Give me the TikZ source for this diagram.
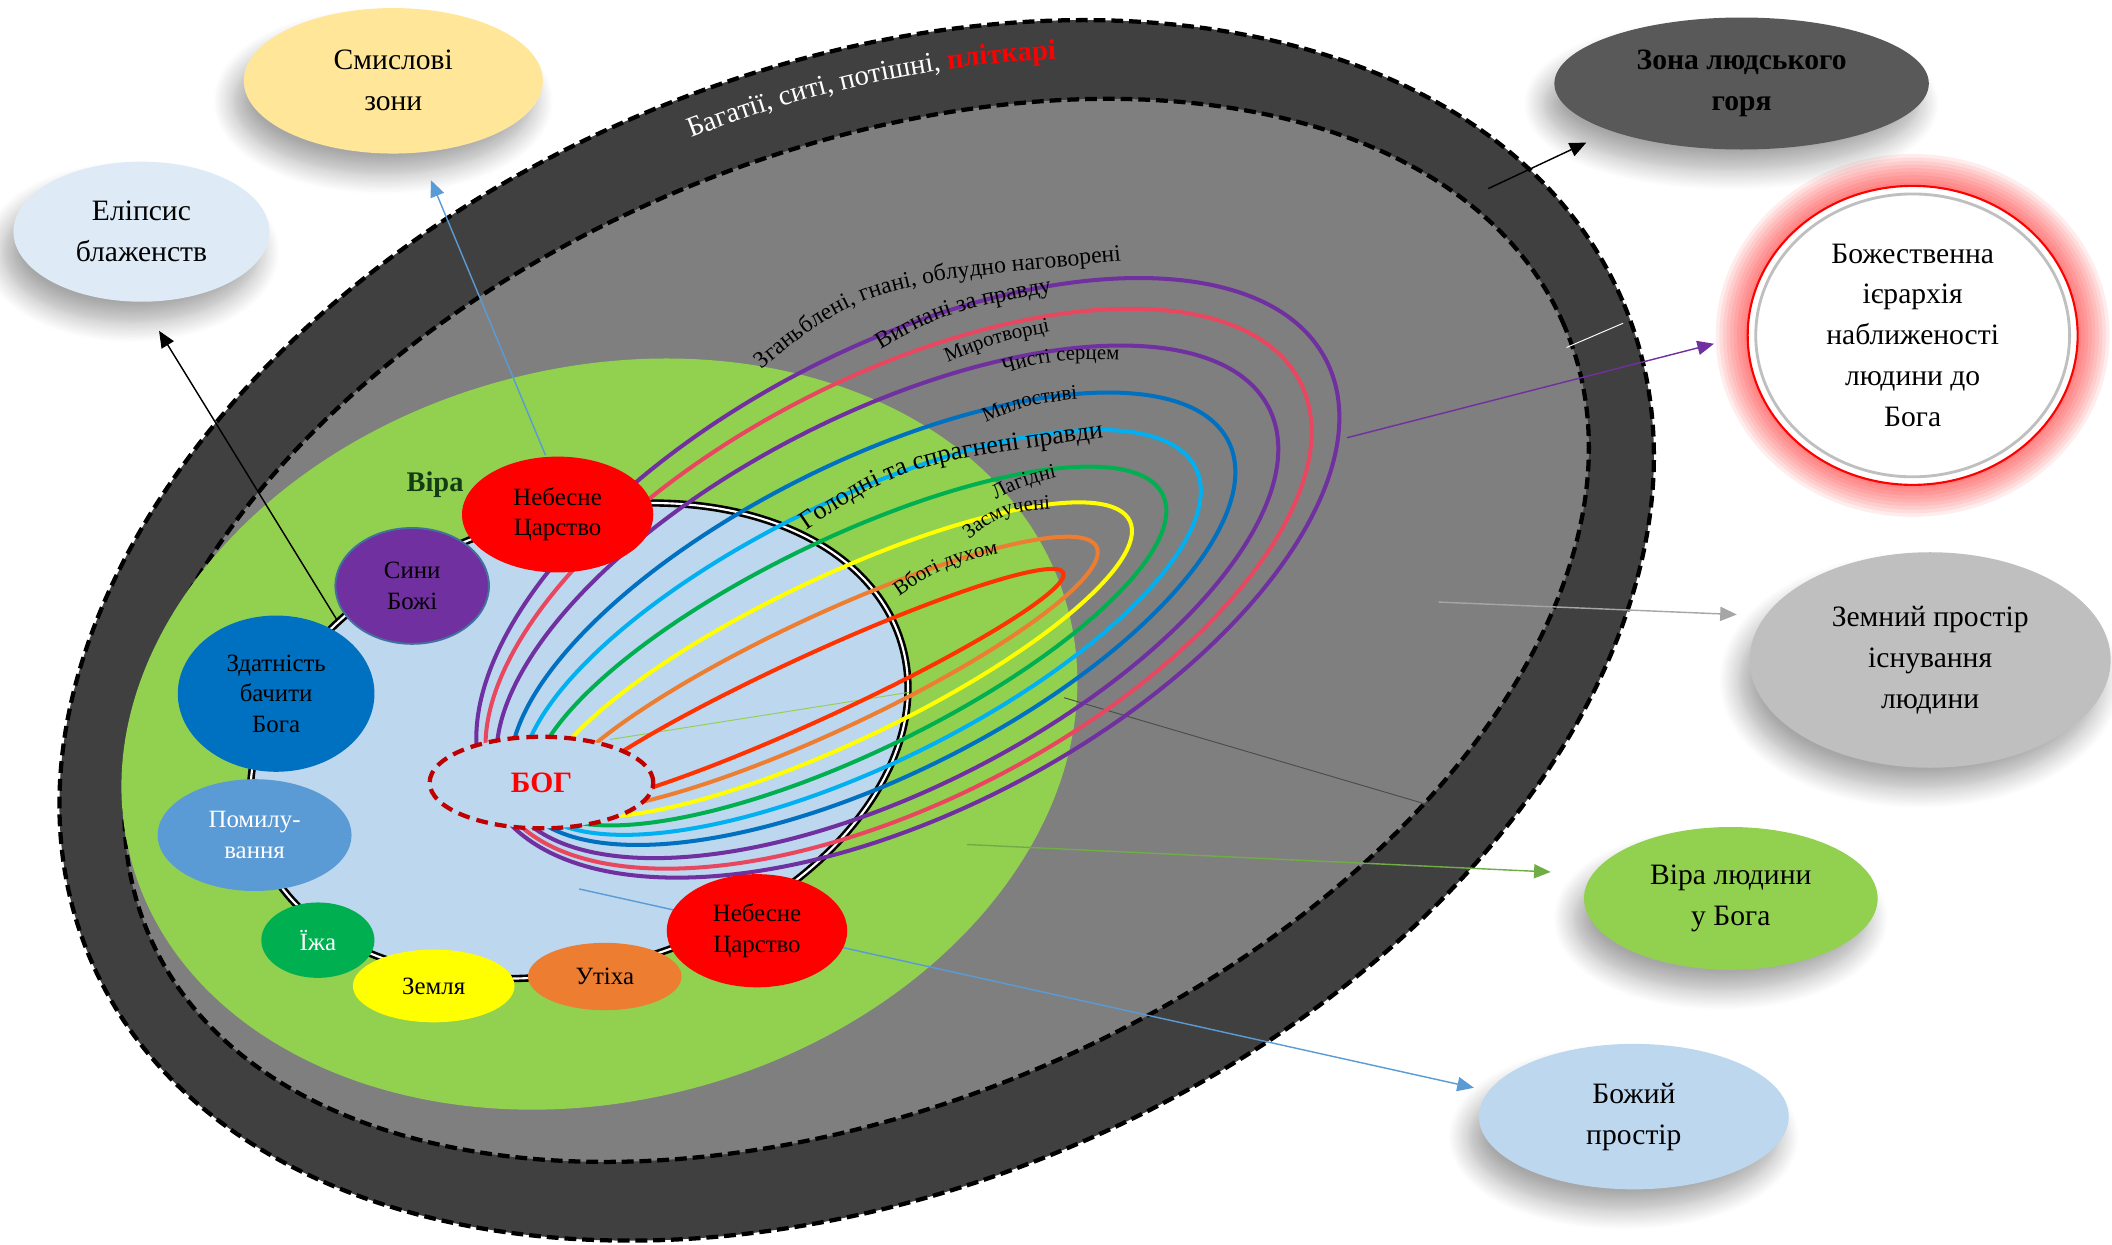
\documentclass[tikz,border=0pt]{standalone}
\usepackage{fontspec}
\setmainfont{Liberation Serif}
\usepackage{xcolor}
\usetikzlibrary{shapes,arrows.meta,positioning,calc,decorations.text,shadows.blur}

\definecolor{ringdark}{HTML}{404040}
\definecolor{ringgray}{HTML}{7F7F7F}
\definecolor{viragreen}{HTML}{92D050}
\definecolor{skyfill}{HTML}{BDD7EE}
\definecolor{bogred}{HTML}{C00000}
\definecolor{pinkred}{HTML}{E8475F}
\definecolor{violet1}{HTML}{7030A0}
\definecolor{blue1}{HTML}{0070C0}
\definecolor{cyan1}{HTML}{00B0F0}
\definecolor{green1}{HTML}{00B050}
\definecolor{orange1}{HTML}{ED7D31}
\definecolor{redorange}{HTML}{FF3300}
\definecolor{yellow1}{HTML}{FFFF00}
\definecolor{steel}{HTML}{5B9BD5}
\definecolor{sandy}{HTML}{FFE699}
\definecolor{paleblue}{HTML}{DEEBF7}
\definecolor{zonegray}{HTML}{595959}
\definecolor{earthgray}{HTML}{BFBFBF}
\definecolor{frameblue}{HTML}{41719C}
\definecolor{arrowgreen}{HTML}{70AD47}
\definecolor{arrowgray}{HTML}{A6A6A6}
\definecolor{faithdark}{HTML}{143C14}

\newcommand{\arcfont}{\fontsize{8.8}{10}\selectfont}
\newcommand{\arcfontL}{\fontsize{10}{12}\selectfont}
\newcommand{\arcfontXL}{\fontsize{11}{13}\selectfont}
\newcommand{\ringfont}{\fontsize{12}{14}\selectfont}

\begin{document}
\begin{tikzpicture}[x=0.2mm,y=0.2mm,
    beat/.style={ellipse,inner sep=0pt,align=center,font=\fontsize{10.5}{12.8}\selectfont},
    zone/.style={ellipse,inner sep=0pt,align=center,font=\fontsize{12.5}{17.3}\selectfont,
        blur shadow={shadow xshift=-1.5mm,shadow yshift=-3mm,shadow blur radius=3mm,shadow blur steps=12,shadow opacity=35}},
    loopline/.style={line width=1.7pt},
    pointer/.style={line width=0.6pt,-{Triangle[length=7pt,width=6pt]}},
    stray/.style={line width=0.4pt},
    arclabel/.style={decorate,decoration={text along path,text align=center,text={#1}}}]
    \useasboundingbox (0,0) rectangle (1568,-924);

    % zone of human grief and earthly space
    \draw[fill=ringdark,line width=1.8pt,dash pattern=on 5pt off 2.5pt,rotate around={23.3:(636,-468)}]
        (636,-468) ellipse [x radius=12.38cm,y radius=8.3cm];
    \draw[fill=ringgray,line width=1.8pt,dash pattern=on 5pt off 2.5pt,rotate around={23.3:(636,-468)}]
        (636,-468) ellipse [x radius=11.44cm,y radius=7.04cm];
    \path[arclabel={|\ringfont\color{white}|Багатії, ситі, потішні, |\ringfont\bfseries\color{red}|пліткарі}]
        plot[smooth,domain=0:49,samples=25,variable=\t]
        ({636+546.4*cos(97-\t)-152.3*sin(97-\t)},{-468+235.3*cos(97-\t)+353.6*sin(97-\t)});

    % faith
    \fill[viragreen,rotate around={15:(445,-545)}] (445,-545) ellipse [x radius=7.2cm,y radius=5.44cm];
    \node[font=\bfseries\fontsize{12}{14}\selectfont,text=faithdark] (vira) at (323,-360) {Віра};

    % God's space
    \draw[fill=skyfill,line width=1.1pt,double=white,double distance=0.9pt,rotate around={17:(430,-550)}]
        (430,-550) ellipse [x radius=5cm,y radius=3.36cm];

    % Zones around
    \node[zone,fill=sandy,minimum width=4.44cm,minimum height=2.16cm] (smysl) at (292,-60) {Смислові\\зони};
    \node[zone,fill=paleblue,minimum width=3.8cm,minimum height=2.08cm] (elips) at (105,-172) {Еліпсис\\блаженств};
    \node[zone,fill=zonegray,minimum width=5.56cm,minimum height=1.96cm,font=\bfseries\fontsize{12.5}{17.3}\selectfont] (zona) at (1293,-62) {Зона людського\\горя};
    \foreach \w in {3,6,...,27}
        \draw[red,opacity=0.07,line width=\w pt] (1420,-249) ellipse [x radius=2.45cm,y radius=2.22cm];
    \node[ellipse,inner sep=0pt,align=center,font=\fontsize{12.5}{17.3}\selectfont,
        draw=red,line width=0.9pt,fill=white,minimum width=4.9cm,minimum height=4.44cm] (bozh) at (1420,-249)
        {Божественна\\ієрархія\\наближеності\\людини до\\Бога};
    \draw[black!25,line width=1.2pt] (bozh.center) ellipse [x radius=2.33cm,y radius=2.1cm];
    \node[zone,fill=earthgray,minimum width=5.36cm,minimum height=3.2cm] (zemn) at (1433,-490) {Земний простір\\існування\\людини};
    \node[zone,fill=viragreen,minimum width=4.36cm,minimum height=2.12cm] (viral) at (1285,-667) {Віра людини\\у Бога};
    \node[zone,fill=skyfill,minimum width=4.6cm,minimum height=2.16cm] (bozhyi) at (1213,-829) {Божий\\простір};

    % pointers
    \coordinate (pSmysl) at (405,-338);
    \coordinate (pElips) at (250,-460);
    \coordinate (pZona) at (1105,-140);
    \coordinate (pBozh) at (1000,-325);
    \coordinate (pZemn) at (1068,-447);
    \coordinate (pVira) at (718,-627);
    \coordinate (pBozhyi) at (430,-660);
    \draw[pointer,steel,shorten >=0.44cm] (pSmysl) -- (smysl.-70);
    \draw[pointer,black,shorten >=0.5cm] (pElips) -- (elips.south);
    \draw[pointer,black,shorten >=0.4cm] (pZona) -- (zona.200);
    \draw[pointer,violet1,shorten >=0.5cm] (pBozh) -- (bozh.west);
    \draw[pointer,arrowgray,shorten >=0.42cm] (pZemn) -- (zemn.165);
    \draw[pointer,arrowgreen,shorten >=0.62cm] (pVira) -- (viral.170);
    \draw[pointer,steel,shorten >=0.22cm] (pBozhyi) -- (bozhyi.170);

    % loose strokes
    \coordinate (sw1) at (1163,-258); \coordinate (sw2) at (1205,-240);
    \coordinate (sg1) at (790,-518);  \coordinate (sg2) at (1062,-598);
    \coordinate (sl1) at (453,-549);  \coordinate (sl2) at (675,-514);
    \draw[stray,white] (sw1) -- (sw2);
    \draw[stray,black!70] (sg1) -- (sg2);
    \draw[stray,viragreen] (sl1) -- (sl2);

    % beatitudes: one loop each, inner part hidden under God
    \foreach \l/\col in {0/redorange,0.125/orange1,0.25/yellow1,0.375/green1,0.5/cyan1,0.625/blue1,0.78/violet1,0.9/pinkred,1/violet1}{
        \pgfmathsetmacro{\cx}{605+69*\l}
        \pgfmathsetmacro{\cy}{-510+81*\l}
        \pgfmathsetmacro{\ra}{(203+147*\l)*0.02}
        \pgfmathsetmacro{\rb}{(24+148*\l)*0.02}
        \pgfmathsetmacro{\ang}{24.7+2.9*\l}
        \draw[loopline,\col,rotate around={\ang:(\cx,\cy)}] (\cx,\cy) ellipse [x radius=\ra cm,y radius=\rb cm];
    }

    % beatitude labels
    \path[arclabel={|\arcfontL|Зганьблені, гнані, облудно наговорені}] (549,-288) .. controls (641,-211) .. (854,-192);
    \path[arclabel={|\arcfontL|Вигнані за правду}] (640,-268) .. controls (700,-232) .. (797,-214);
    \path[arclabel={|\arcfont|Миротворці}] (692,-274) .. controls (740,-254) .. (792,-244);
    \path[arclabel={|\arcfont|Чисті серцем}] (732,-281) .. controls (785,-266) .. (845,-268);
    \path[arclabel={|\arcfont|Милостиві}] (718,-320) .. controls (762,-300) .. (815,-295);
    \path[arclabel={|\arcfontXL|Голодні та спрагнені правди}] (588,-401) .. controls (670,-345) .. (832,-323);
    \path[arclabel={|\arcfont|Лагідні}] (730,-376) .. controls (760,-360) .. (795,-352);
    \path[arclabel={|\arcfont|Засмучені}] (710,-408) .. controls (745,-380) .. (792,-377);
    \path[arclabel={|\arcfont|Вбогі духом}] (656,-451) .. controls (700,-420) .. (755,-408);

    % God
    \node[ellipse,draw=bogred,fill=skyfill,line width=1.8pt,dash pattern=on 5pt off 3pt,
        minimum width=3.32cm,minimum height=1.36cm,inner sep=0pt,
        font=\bfseries\fontsize{12.5}{14}\selectfont,text=red] (bog) at (402,-581) {БОГ};

    % ring of blessings
    \node[beat,fill=red,minimum width=2.84cm,minimum height=1.72cm] (nebo1) at (414,-382) {Небесне\\Царство};
    \node[beat,fill=violet1,draw=frameblue,line width=0.8pt,minimum width=2.28cm,minimum height=1.72cm] (syny) at (306,-435) {Сини\\Божі};
    \node[beat,fill=blue1,minimum width=2.92cm,minimum height=2.32cm] (zdat) at (205,-515) {Здатність\\бачити\\Бога};
    \node[beat,fill=steel,text=white,minimum width=2.88cm,minimum height=1.66cm] (pomyl) at (189,-620) {Помилу-\\вання};
    \node[beat,fill=green1,text=white,minimum width=1.68cm,minimum height=1.12cm] (izha) at (236,-698) {Їжа};
    \node[beat,fill=yellow1,minimum width=2.4cm,minimum height=1.08cm] (zemlia) at (322,-732) {Земля};
    \node[beat,fill=orange1,minimum width=2.28cm,minimum height=1cm] (utikha) at (449,-725) {Утіха};
    \node[beat,fill=red,minimum width=2.68cm,minimum height=1.68cm] (nebo2) at (562,-691) {Небесне\\Царство};
\end{tikzpicture}
\end{document}
